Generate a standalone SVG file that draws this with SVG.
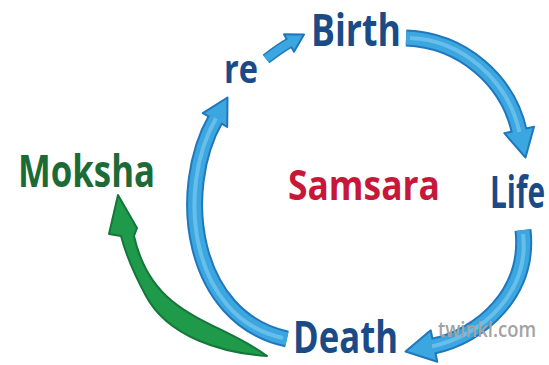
<svg xmlns="http://www.w3.org/2000/svg" width="549" height="365" viewBox="0 0 549 365">
<style>
.lbl{font-family:"Open Sans","Liberation Sans",sans-serif;font-weight:700;font-size:44px}
.cyc{fill:#1b4b87}
.out{fill:none;stroke:#1f78bd;stroke-width:17}
.inn{fill:none;stroke:#3ba6df;stroke-width:13}
.hi{fill:none;stroke:#8ad3f3;stroke-width:4;opacity:0.55}
.head{fill:#3ba6df;stroke:#1f78bd;stroke-width:2;stroke-linejoin:round}
.gr{fill:#1f9a4a;stroke:#15763a;stroke-width:2;stroke-linejoin:round}
</style>
<rect width="549" height="365" fill="#ffffff"/>
<g id="connectors">
  <!-- Birth to Life -->
  <g id="c-birth-life">
    <path class="out" d="M 406 38 C 462 40 508 80 519.4 132"/>
    <polygon class="head" points="525.5,157.5 534,126.8 519,130 504.3,133.2"/>
    <path class="inn" d="M 406 38 C 462 40 508 80 519.4 132"/>
    <path class="hi" d="M 410 38 C 462 40 508 80 519.4 132"/>
  </g>
  <!-- Life to Death -->
  <g id="c-life-death">
    <path class="out" d="M 523 230 C 530 292 482 336 432 346.4"/>
    <polygon class="head" points="405.5,351.5 430.7,330.3 434,346 437.3,361.7"/>
    <path class="inn" d="M 523 230 C 530 292 482 336 432 346.4"/>
    <path class="hi" d="M 523 234 C 530 292 482 336 432 346.4"/>
  </g>
  <!-- Death to re -->
  <g id="c-death-re">
    <path class="out" d="M 287 339 C 190 318 175 190 216 118.3"/>
    <polygon class="head" points="227.5,97.5 202.8,113.1 215,120 227.2,126.9"/>
    <path class="inn" d="M 287 339 C 190 318 175 190 216 118.3"/>
    <path class="hi" d="M 283 338 C 190 318 175 190 216 118.3"/>
  </g>
  <!-- re to Birth -->
  <g id="c-re-birth">
    <path fill="none" stroke="#1f78bd" stroke-width="11" d="M 266 59 C 275 52 282 47 290.5 42.2"/>
    <polygon class="head" points="304,34.5 284,34.3 289,43 294,51.7"/>
    <path fill="none" stroke="#3ba6df" stroke-width="8" d="M 266 59 C 275 52 282 47 290.5 42.2"/>
  </g>
  <!-- Death to Moksha -->
  <g id="c-death-moksha">
    <path class="gr" d="M 267 356 C 222 353 168 337 146 296 C 133 272 126 255 121 236 L 109 234 L 118 195 L 137 228 L 134 236 C 139 258 150 283 172 301 C 200 324 238 334 267 356 Z"/>
  </g>
</g>
<g id="node-birth"><text class="lbl cyc" x="311" y="46" textLength="90" lengthAdjust="spacingAndGlyphs">Birth</text></g>
<g id="node-re"><text class="lbl cyc" x="224" y="83" style="font-size:40px" textLength="34" lengthAdjust="spacingAndGlyphs">re</text></g>
<g id="node-life"><text class="lbl cyc" x="490" y="208" textLength="55" lengthAdjust="spacingAndGlyphs">Life</text></g>
<g id="node-death"><text class="lbl cyc" x="293" y="353" textLength="105" lengthAdjust="spacingAndGlyphs">Death</text></g>
<g id="node-moksha"><text class="lbl" fill="#1c6b37" x="18" y="187" textLength="137" lengthAdjust="spacingAndGlyphs">Moksha</text></g>
<g id="node-samsara"><text class="lbl" fill="#c8183a" x="288" y="200" style="font-size:42px" textLength="152" lengthAdjust="spacingAndGlyphs">Samsara</text></g>
<g id="watermark"><text x="438" y="337" font-family="'Open Sans','Liberation Sans',sans-serif" font-weight="600" font-size="22" fill="#a3a3a3" textLength="98" lengthAdjust="spacingAndGlyphs">twinkl.com</text></g>
</svg>
